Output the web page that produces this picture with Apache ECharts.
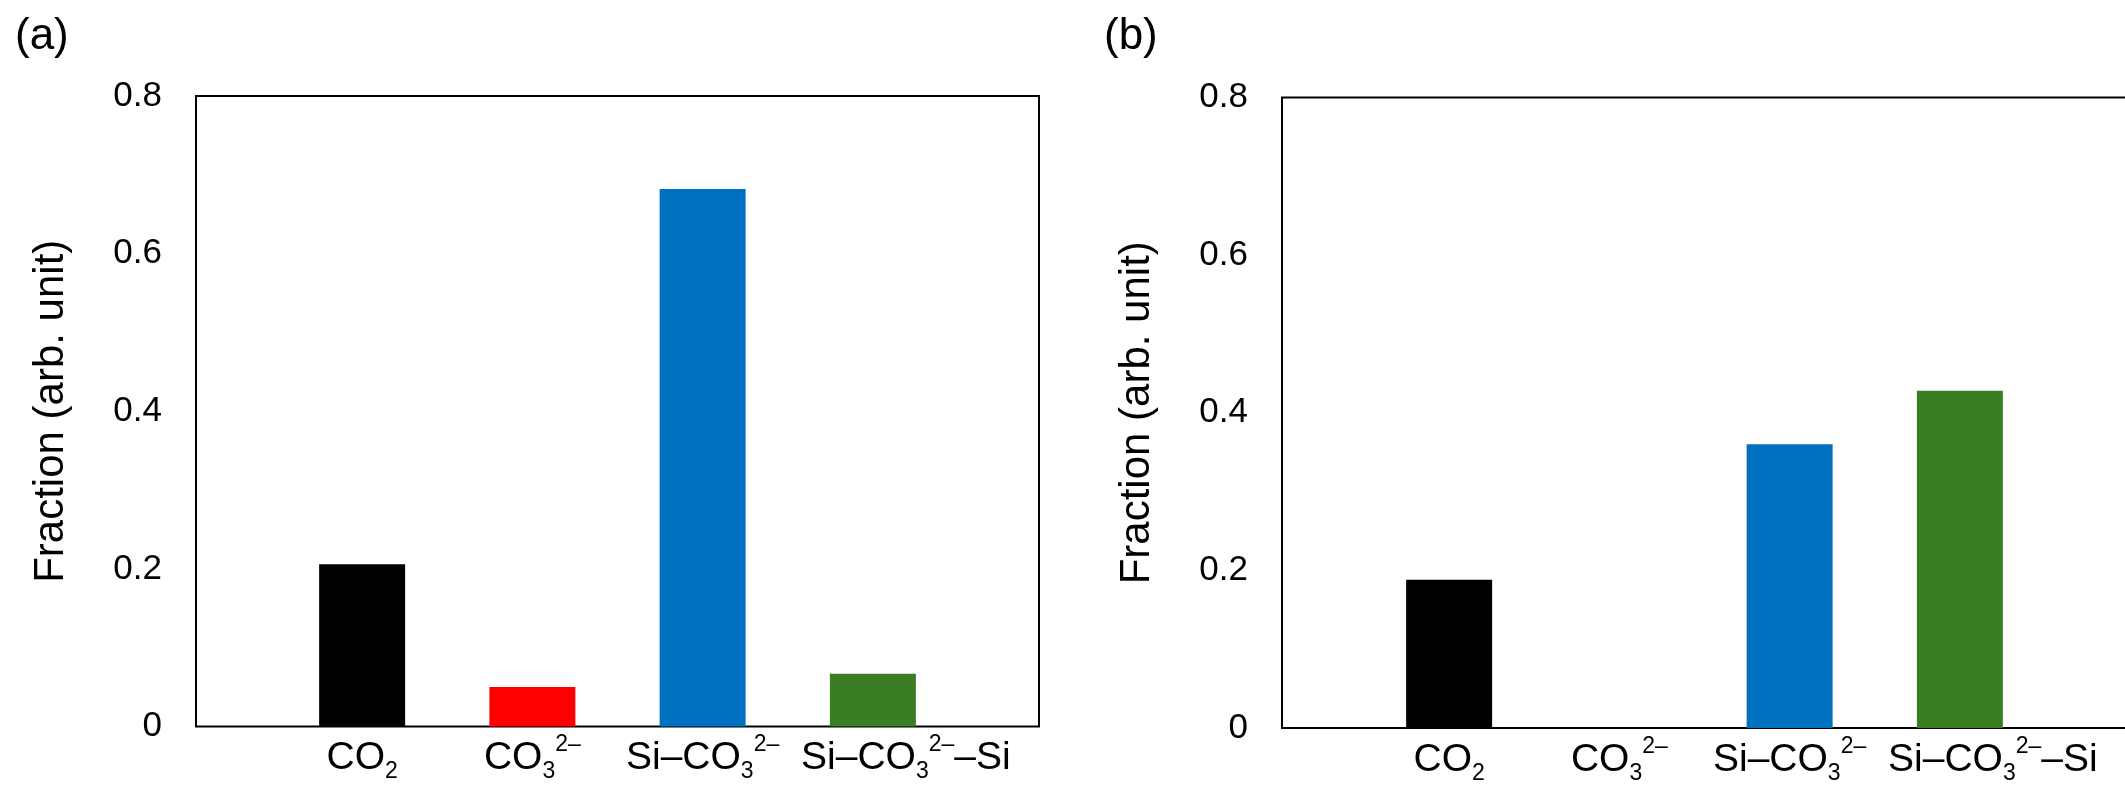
<!DOCTYPE html>
<html>
<head>
<meta charset="utf-8">
<script src="https://cdn.jsdelivr.net/npm/echarts@6/dist/echarts.min.js"></script>
<style>
  html, body { margin: 0; padding: 0; background: #fff; }
  #chart { width: 2125px; height: 786px; }
</style>
</head>
<body>
<div id="chart"></div>
<script>
// 类别（富文本：下标 / 上标）
const categories = ['CO{sub|2}', 'CO{sub|3}{sup|2–}', 'Si–CO{sub|3}{sup|2–}', 'Si–CO{sub|3}{sup|2–}–Si'];
// (a) 与 (b) 各类别的比例
const valuesA = [0.206, 0.050, 0.682, 0.067];
const valuesB = [0.188, 0, 0.360, 0.428];
const barColors = ['#000000', '#ff0000', '#0070c0', '#3b7d23'];
const panelLabels = ['(a)', '(b)'];
const yName = 'Fraction (arb. unit)';
const yMin = 0, yMax = 0.8, yStep = 0.2;

const font = 'Liberation Sans, Arial, sans-serif';

// 行高 50：下标贴底，上标贴顶
const richLabel = {
    base: { fontSize: 39, fontFamily: font, color: '#000', lineHeight: 50, verticalAlign: 'middle' },
    sub: { fontSize: 23, fontFamily: font, color: '#000', lineHeight: 27, verticalAlign: 'bottom' },
    sup: { fontSize: 23, fontFamily: font, color: '#000', lineHeight: 37, verticalAlign: 'top' },
    pad: { width: 66, lineHeight: 50 }
};

function fmtLabel(v, idx) {
    let s = '{base|' + v.replace(/\{(sub|sup)\|([^}]*)\}/g, '}{$1|$2}{base|') + '}';
    s = s.replace(/\{base\|\}/g, '');
    // 最后一个标签在原图里偏右
    if (idx === 3) s = '{pad|}' + s;
    return s;
}

// 外框网格与柱子网格
const frames = [
    { left: 196, top: 96, width: 843, height: 630.5 },
    { left: 1282, top: 97.5, width: 844, height: 630.5 }
];
const barGrids = [
    { left: 277, top: 96, width: 681, height: 630.5 },
    { left: 1364, top: 97.5, width: 681, height: 630.5 }
];

const grid = [], xAxis = [], yAxis = [], series = [];
[valuesA, valuesB].forEach((vals, p) => {
    const fi = grid.length;
    grid.push(Object.assign({ show: true, borderColor: '#000', borderWidth: 2, backgroundColor: 'transparent',
        containLabel: false, outerBoundsMode: 'none' }, frames[p]));
    xAxis.push({ gridIndex: fi, type: 'value', show: false, min: 0, max: 1 });
    yAxis.push({
        gridIndex: fi, type: 'value', min: yMin, max: yMax, interval: yStep,
        axisLine: { show: false }, axisTick: { show: false }, splitLine: { show: false },
        axisLabel: { fontSize: 35, fontFamily: font, color: '#000', margin: 34,
            formatter: v => v === 0 ? '0' : v.toFixed(1) },
        name: yName, nameLocation: 'middle', nameGap: 124, nameRotate: 90,
        nameTextStyle: { fontSize: 42, fontFamily: font, color: '#000' }
    });

    const bi = grid.length;
    grid.push(Object.assign({ containLabel: false, outerBoundsMode: 'none' }, barGrids[p]));
    xAxis.push({
        gridIndex: bi, type: 'category', data: categories,
        axisLine: { show: false }, axisTick: { show: false },
        axisLabel: { interval: 0, margin: 7, hideOverlap: false, formatter: fmtLabel, rich: richLabel }
    });
    yAxis.push({ gridIndex: bi, type: 'value', min: yMin, max: yMax, interval: yStep, show: false });

    series.push({
        type: 'bar', xAxisIndex: bi, yAxisIndex: bi, barWidth: 86,
        data: vals.map((v, i) => ({ value: v, itemStyle: { color: barColors[i] } }))
    });
});

const chart = echarts.init(document.getElementById('chart'));
chart.setOption({
    animation: false,
    backgroundColor: '#fff',
    title: [
        { text: panelLabels[0], left: 10, top: 10, textStyle: { fontSize: 44, fontWeight: 'normal', fontFamily: font, color: '#000' } },
        { text: panelLabels[1], left: 1099, top: 10, textStyle: { fontSize: 44, fontWeight: 'normal', fontFamily: font, color: '#000' } }
    ],
    grid: grid,
    xAxis: xAxis,
    yAxis: yAxis,
    series: series
});
</script>
</body>
</html>
